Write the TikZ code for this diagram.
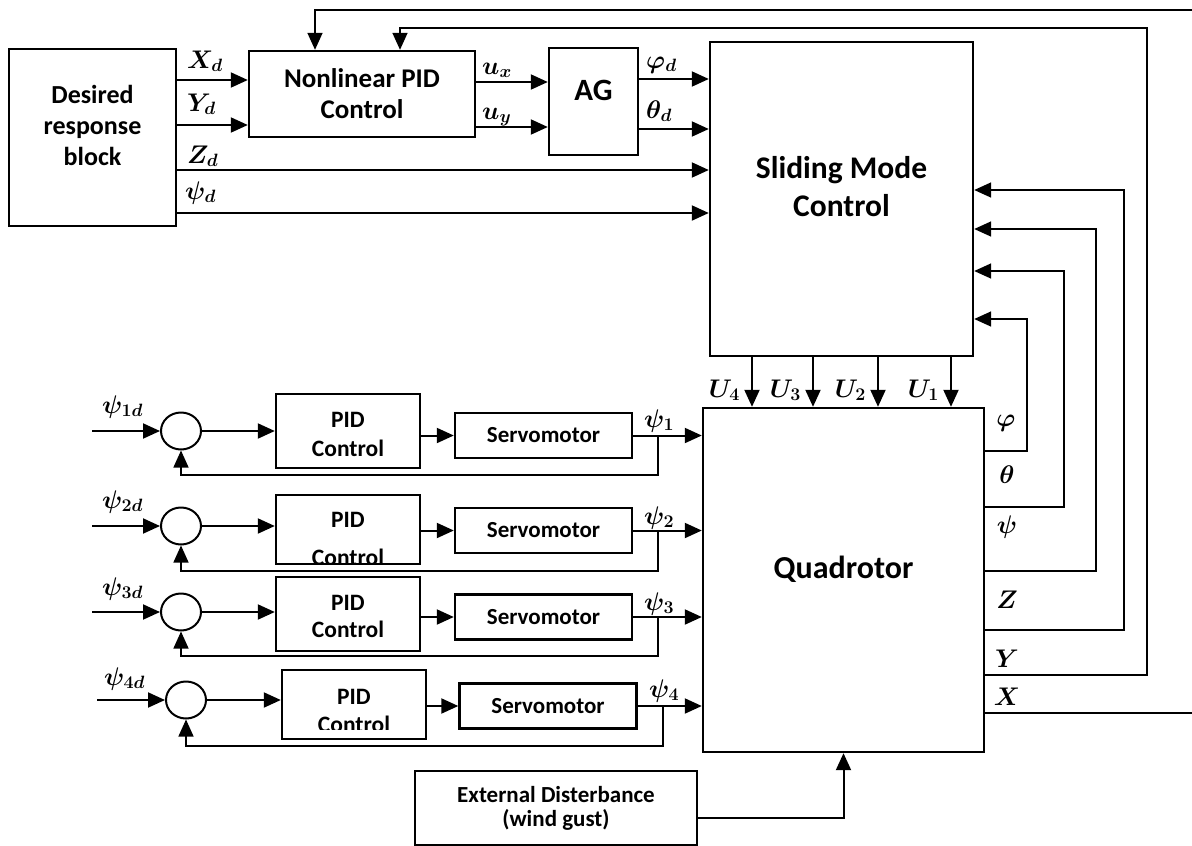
\RequirePackage{fix-cm}
\documentclass[tikz,border=0pt]{standalone}
\usepackage[no-math]{fontspec}
\setmainfont{Carlito}
\usetikzlibrary{arrows.meta,shapes.geometric}

\tikzset{
  blk/.style={draw, line width=2.4pt, inner sep=0pt, align=center},
  txt/.style={inner sep=0pt, align=center, font=\bfseries\fontsize{#1}{#1}\selectfont},
  tip/.style={-{Triangle[length=17pt,width=15pt]}},
  sig/.style={line width=2pt, tip},
  fb/.style={line width=1.3pt},
  fbarr/.style={line width=1.6pt, tip},
  lbl/.style={inner sep=0pt, font=\boldmath\fontsize{25.5}{25.5}\selectfont},
  sumj/.style={draw, line width=2pt, ellipse, minimum width=40pt, minimum height=37pt, inner sep=0pt},
}

\begin{document}
\begin{tikzpicture}[x=1pt, y=-1pt]
\useasboundingbox (0,0) rectangle (1192,846);

% ---------- upper control chain ----------
\node[blk, minimum width=167pt, minimum height=177pt] (des) at (92.5,137.5) {};
\node[txt=26, font=\bfseries\fontsize{26}{31}\selectfont, yshift=12pt] (desT) at (des.center) {Desired\\response\\block};

\node[blk, minimum width=226pt, minimum height=86pt, font=\bfseries\fontsize{27}{31}\selectfont] (npid) at (362,94) {Nonlinear PID\\Control};

\node[blk, minimum width=89pt, minimum height=107pt] (ag) at (593.5,101.5) {};
\node[txt=31, yshift=11pt] (agT) at (ag.center) {AG};

\node[blk, minimum width=263pt, minimum height=314pt] (smc) at (841.5,199) {};
\node[txt=31.5, font=\bfseries\fontsize{31.5}{38.5}\selectfont, yshift=12.5pt] (smcT) at (smc.center) {Sliding Mode\\Control};

\node[blk, minimum width=281pt, minimum height=344pt] (quad) at (843.5,580) {};
\node[txt=32, yshift=11pt] (quadT) at (quad.center) {Quadrotor};

\node[blk, minimum width=282pt, minimum height=74pt, font=\bfseries\fontsize{23}{24}\selectfont] (dist) at (556,808) {External Disterbance\\(wind gust)};

% desired signals
\draw[sig] (des.east |- 0,80) -- (npid.west |- 0,80);
\draw[sig] (des.east |- 0,125) -- (npid.west |- 0,125);
\draw[sig] (des.east |- 0,170) -- (smc.west |- 0,170);
\draw[sig] (des.east |- 0,213) -- (smc.west |- 0,213);
\node[lbl, anchor=base west] (lXd) at (187,68) {$X_d$};
\node[lbl, anchor=base west] (lYd) at (187,111) {$Y_d$};
\node[lbl, anchor=base west] (lZd) at (187,163) {$Z_d$};
\node[lbl, anchor=base west] (lPd) at (185,199) {$\psi_d$};

\draw[sig] (npid.east |- 0,82) -- (ag.west |- 0,82);
\draw[sig] (npid.east |- 0,127) -- (ag.west |- 0,127);
\node[lbl, anchor=base west] (lux) at (482,74) {$u_x$};
\node[lbl, anchor=base west] (luy) at (482,119) {$u_y$};

\draw[sig] (ag.east |- 0,79) -- (smc.west |- 0,79);
\draw[sig] (ag.east |- 0,129) -- (smc.west |- 0,129);
\node[lbl, anchor=base west] (lphd) at (646,68) {$\varphi_d$};
\node[lbl, anchor=base west] (lthd) at (646,118) {$\theta_d$};

% control inputs U1..U4
\foreach \xx/\k in {752/4, 813/3, 878/2, 951/1}{
  \draw[sig] (smc.south -| \xx,0) -- (quad.north -| \xx,0);
  \node[lbl, anchor=base east] (lU\k) at (\xx-12,397) {$U_{\k}$};
}

% ---------- state feedback ----------
\draw[fbarr] (quad.east |- 0,451) -| (1027,319) -- (smc.east |- 0,319);
\draw[fbarr] (quad.east |- 0,507) -| (1064,271) -- (smc.east |- 0,271);
\draw[fbarr] (quad.east |- 0,571) -| (1096,229) -- (smc.east |- 0,229);
\draw[fbarr] (quad.east |- 0,630) -| (1124,190) -- (smc.east |- 0,190);
\draw[fbarr] (quad.east |- 0,675) -| (1147,28) -| ([xshift=38pt]npid.north);
\coordinate (xout) at (1192,713);
\coordinate (xin) at (1192,10);
\draw[fb] (quad.east |- xout) -- (xout);
\draw[fbarr] (xin) -| ([xshift=-47pt]npid.north);

\node[lbl, anchor=base] (lph) at (1006,426) {$\varphi$};
\node[lbl, anchor=base] (lth) at (1007,483) {$\theta$};
\node[lbl, anchor=base] (lps) at (1007,533) {$\psi$};
\node[lbl, anchor=base] (lZ) at (1007,608) {$Z$};
\node[lbl, anchor=base] (lY) at (1007,667) {$Y$};
\node[lbl, anchor=base] (lX) at (1007,705) {$X$};

% disturbance
\draw[sig] (dist.east |- 0,818) -| (quad.south);

% ---------- rotor tilt loops ----------
\foreach \i/\sx/\sy/\px/\py/\ph/\vx/\vy/\bx/\fy/\inx in {
  1/181/431/348/431/74/543.5/435.5/658/475/92,
  2/181/526/348/529.5/69/543.5/530.5/658/571/92,
  3/181/612/348/614/74/543.5/617/658/656/92,
  4/186/700/354/704.5/69/548/706/663/746/97}{
  \node[sumj] (sum\i) at (\sx,\sy) {};
  \node[blk, minimum width=144pt, minimum height=\ph pt] (pid\i) at (\px,\py) {};
  \node[blk, minimum width=177pt, minimum height=45pt, font=\bfseries\fontsize{23}{23}\selectfont] (servo\i) at (\vx,\vy) {Servomotor};
  \coordinate (in\i) at (\inx,\sy);
  \coordinate (br\i) at (\bx,\vy);
  \draw[sig] (in\i) -- (sum\i.west);
  \draw[sig] (sum\i.east) -- (pid\i.west |- sum\i.east);
  \draw[sig] (pid\i.east |- servo\i.west) -- (servo\i.west);
  \draw[sig] (servo\i.east) -- (quad.west |- servo\i.east);
  \draw[fb] (br\i) -- (\bx,\fy) -| ([yshift=-9pt]sum\i.south);
  \draw[line width=1.3pt, tip] ([yshift=-10pt]sum\i.south) -- (sum\i.south);
}

% controller captions
\node[txt=23.5, anchor=base] (p1a) at (348,427) {PID};
\node[txt=23.5, anchor=base] (p1b) at (348,456) {Control};
\node[txt=23.5, anchor=base] (p3a) at (348,610) {PID};
\node[txt=23.5, anchor=base] (p3b) at (348,637) {Control};
\begin{scope}
  \clip (276,495) rectangle (420,563);
  \node[txt=23.5, anchor=base] (p2a) at (348,527) {PID};
  \node[txt=23.5, anchor=base] (p2b) at (348,565) {Control};
\end{scope}
\begin{scope}
  \clip (282,670) rectangle (426,729);
  \node[txt=23.5, anchor=base] (p4a) at (354,704) {PID};
  \node[txt=23.5, anchor=base] (p4b) at (354,732) {Control};
\end{scope}

% tilt angle labels
\node[lbl, anchor=base west] (ls1) at (644,427) {$\psi_1$};
\node[lbl, anchor=base west] (ls2) at (644,524) {$\psi_2$};
\node[lbl, anchor=base west] (ls3) at (644,610) {$\psi_3$};
\node[lbl, anchor=base west] (ls4) at (649,697) {$\psi_4$};
\node[lbl, anchor=base west] (lr1) at (102,413) {$\psi_{1d}$};
\node[lbl, anchor=base west] (lr2) at (102,508) {$\psi_{2d}$};
\node[lbl, anchor=base west] (lr3) at (102,595) {$\psi_{3d}$};
\node[lbl, anchor=base west] (lr4) at (104,685) {$\psi_{4d}$};
\end{tikzpicture}
\end{document}
